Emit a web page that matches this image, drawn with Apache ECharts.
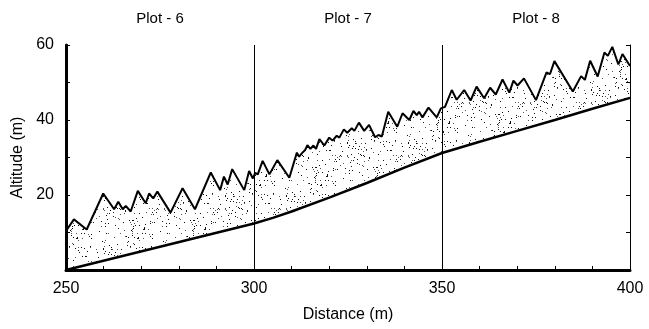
<!DOCTYPE html>
<html><head><meta charset="utf-8">
<script src="https://cdn.jsdelivr.net/npm/echarts@6/dist/echarts.min.js"></script>
<style>html,body{margin:0;padding:0;background:#fff}#c{width:649px;height:329px}</style>
</head><body><div id="c"></div>
<script>
// ---- data ----
const topDist = [250,252.1,255.5,259.9,262.8,263.9,265.1,265.9,267.2,269.1,271.2,272.1,273.2,274.3,277.8,281.0,284.3,288.5,291.0,292.0,293.0,294.2,297.4,298.7,299.7,300.3,301.0,302.3,304.1,306.2,309.4,311.4,312.0,312.7,313.6,314.2,315.0,315.8,316.5,317.4,318.7,320.0,320.9,322.0,322.7,323.9,324.8,326.0,326.7,327.9,329.3,330.6,332.2,333.1,334.0,335.7,338.1,339.5,341.3,342.4,343.3,343.9,344.8,346.4,348.6,349.7,350.2,350.8,352.6,353.9,355.9,357.6,359.2,361.2,362.8,364.3,366.1,367.9,369.0,370.1,371.8,375.0,377.8,378.7,379.9,384.8,387.0,388.0,389.4,391.4,393.2,394.1,395.3,396.9,398.0,400];
const topAlt  = [10.4,13.5,10.8,20.4,16.2,18.2,16.2,17.1,15.6,21.1,17.8,20.4,19.1,20.9,15.3,21.8,16.2,26.0,21.3,24.9,22.8,26.9,21.3,26.4,24.4,25.9,25.5,29.1,25.5,29.3,24.6,31.3,30.2,31.1,32.0,33.3,32.3,33.2,32.3,34.9,33.2,35.3,34.5,35.8,35.3,37.5,36.6,37.8,37.1,39.3,37.1,38.7,35.4,36.0,35.6,42.2,38.2,41.8,40.0,42.4,41.3,42.2,40.7,43.3,40.7,43.1,42.7,43.5,48.0,45.4,48.0,45.2,48.9,45.8,48.6,46.8,50.8,47.3,50.5,49.2,51.1,45.3,52.7,52.2,55.7,47.6,51.7,50.7,55.8,51.6,58.0,57.1,59.5,54.8,57.6,54.4];
const baseDist = [250,300,305,310,320,330,340,350,360,370,380,390,400];
const baseAlt  = [0,12.4,13.9,15.6,19.3,23.2,27.3,31.2,34.2,37.1,40.0,43.0,45.9];
const plotBounds = [300,350];
const plotNames = {275:'Plot - 6',325:'Plot - 7',375:'Plot - 8'};
const xTickLabels = [250,300,350,400];
const yTickLabels = [20,40,60];

// stipple texture (deterministic hash scatter)
const TW = 61, TH = 53;
const pc = document.createElement('canvas');
pc.width = TW; pc.height = TH;
const g = pc.getContext('2d');
g.fillStyle = '#fff'; g.fillRect(0,0,TW,TH);
function h(n){ n = (n ^ 61) ^ (n >>> 16); n = Math.imul(n, 9); n = n ^ (n >>> 4); n = Math.imul(n, 0x27d4eb2d); n = n ^ (n >>> 15); return n >>> 0; }
for (let i = 0; i < 150; i++) {
  const x = h(i*2+1) % TW, y = h(i*2+7919) % TH;
  g.fillStyle = (h(i+333) % 3 === 0) ? '#555' : '#111';
  g.fillRect(x, y, 1, 1);
}

const FONT = 'Liberation Sans';
const chart = echarts.init(document.getElementById('c'));
chart.setOption({
  animation: false,
  backgroundColor: '#fff',
  grid: {left: 66, right: 19, top: 45, bottom: 59},
  xAxis: [{
    type: 'value', min: 250, max: 400, interval: 10, z: 10,
    axisLine: {lineStyle: {color: '#000', width: 3}},
    axisTick: {inside: true, length: 4, lineStyle: {color: '#000', width: 1}},
    splitLine: {show: false},
    axisLabel: {color: '#000', fontSize: 16, fontFamily: FONT, margin: 11,
      formatter: v => xTickLabels.includes(v) ? String(v) : ''},
    name: 'Distance (m)', nameLocation: 'middle', nameGap: 37,
    nameTextStyle: {color: '#000', fontSize: 16, fontFamily: FONT}
  }, {
    type: 'value', min: 250, max: 400, interval: 25, position: 'top',
    axisLine: {show: false}, axisTick: {show: false}, splitLine: {show: false},
    axisLabel: {color: '#000', fontSize: 15, fontFamily: FONT, margin: 19,
      formatter: v => plotNames[v] || ''}
  }],
  yAxis: [{
    type: 'value', min: 0, max: 60, interval: 10, z: 10,
    axisLine: {lineStyle: {color: '#000', width: 3}},
    axisTick: {inside: true, length: 4, lineStyle: {color: '#000', width: 1}},
    splitLine: {show: false},
    axisLabel: {color: '#000', fontSize: 16, fontFamily: FONT, margin: 12,
      formatter: v => yTickLabels.includes(v) ? String(v) : ''},
    name: 'Altitude (m)', nameLocation: 'middle', nameGap: 36,
    nameTextStyle: {color: '#000', fontSize: 16, fontFamily: FONT}
  }, {
    type: 'value', min: 0, max: 60, interval: 10, position: 'right', z: 10,
    axisLine: {show: true, lineStyle: {color: '#000', width: 1}},
    axisTick: {show: true, inside: true, length: 4, lineStyle: {color: '#000', width: 1}},
    splitLine: {show: false}, axisLabel: {show: false}
  }],
  series: [{
    type: 'line', z: 2, symbol: 'none',
    data: topDist.map((d, i) => [d, topAlt[i]]),
    lineStyle: {color: '#000', width: 2},
    areaStyle: {color: {image: pc, repeat: 'repeat'}, opacity: 1}
  }, {
    type: 'line', z: 3, symbol: 'none',
    data: baseDist.map((d, i) => [d, baseAlt[i]]),
    lineStyle: {color: '#000', width: 2.5},
    areaStyle: {color: '#fff', opacity: 1}
  }, {
    type: 'line', z: 4, symbol: 'none', data: [],
    markLine: {
      silent: true, symbol: 'none', label: {show: false},
      lineStyle: {color: '#000', width: 1, type: 'solid'},
      data: plotBounds.map(v => ({xAxis: v}))
    }
  }]
});
</script></body></html>
